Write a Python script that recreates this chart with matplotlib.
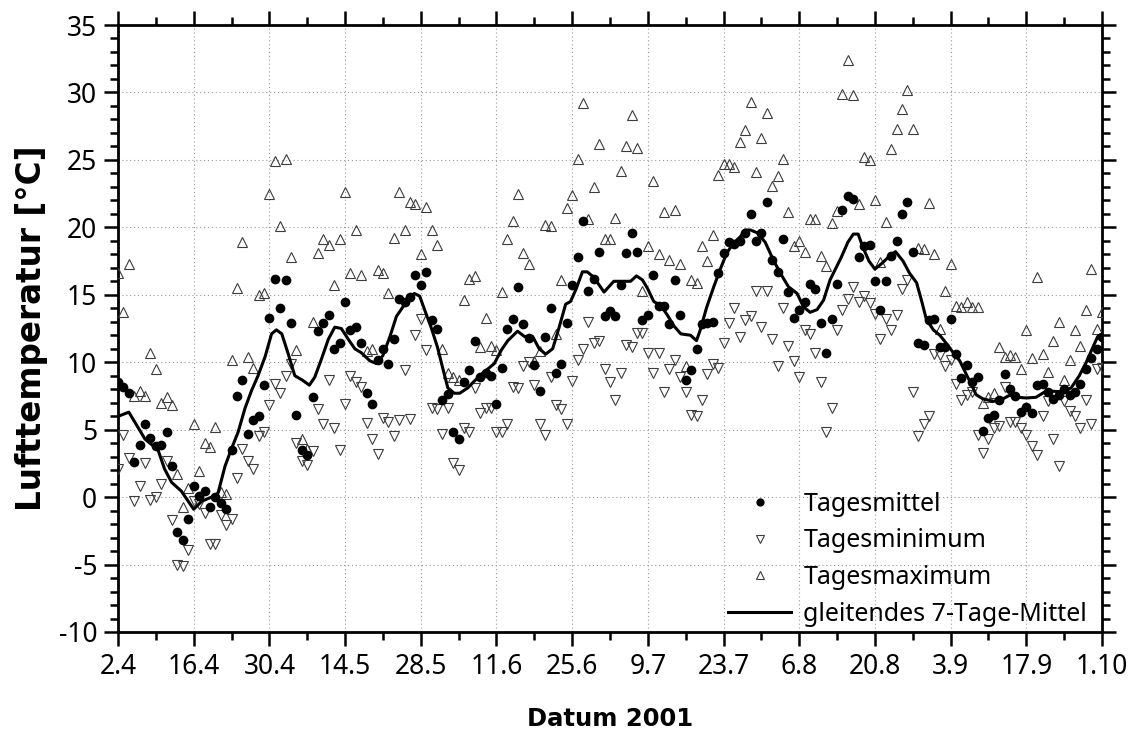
import numpy as np
import matplotlib
matplotlib.use("Agg")
import matplotlib.pyplot as plt
from matplotlib.ticker import MultipleLocator, FixedLocator

# ---------------- data (day index 0 = 2.4.2001 ... 182 = 1.10.2001) ----------------
tick_labels = ["2.4", "16.4", "30.4", "14.5", "28.5", "11.6", "25.6",
               "9.7", "23.7", "6.8", "20.8", "3.9", "17.9", "1.10"]

tagesmittel = [
    8.5, 8.15, 7.7, 2.6, 3.9, 5.4, 4.4, 3.8, 3.9, 4.8,
    2.3, -2.6, -3.2, -1.6, 0.8, 0.1, 0.45, -0.7, 0.0, -0.4,
    -0.9, 3.5, 7.5, 8.7, 4.7, 5.7, 6.0, 8.3, 13.3, 16.2,
    14.0, 16.1, 12.9, 6.1, 3.5, 3.1, 7.4, 12.3, 12.9, 13.5,
    11.0, 11.4, 14.5, 12.4, 12.6, 11.4, 7.7, 6.9, 10.2, 11.0,
    9.9, 11.7, 14.7, 14.5, 14.8, 16.5, 15.7, 16.7, 13.1, 12.5,
    7.2, 7.65, 4.8, 4.3, 8.5, 9.4, 11.6, 8.9, 9.2, 9.0,
    6.9, 9.6, 12.5, 13.2, 15.6, 12.8, 11.8, 9.8, 7.85, 11.9,
    14.0, 9.2, 9.9, 12.9, 15.7, 17.8, 20.5, 15.3, 16.2, 18.2,
    13.4, 13.8, 13.4, 15.7, 18.1, 19.6, 18.2, 13.1, 13.5, 16.5,
    14.2, 14.2, 12.8, 16.1, 13.5, 8.65, 9.4, 11.0, 12.8, 12.9,
    13.0, 16.6, 18.1, 18.9, 18.8, 19.0, 19.6, 21.0, 19.0, 19.6,
    21.9, 17.6, 16.7, 19.1, 15.2, 13.3, 13.9, 14.5, 15.8, 15.4,
    12.9, 10.7, 13.2, 15.8, 21.3, 22.35, 22.1, 17.8, 18.6, 18.7,
    16.0, 13.9, 16.0, 17.9, 19.0, 21.0, 21.9, 18.2, 11.4, 11.3,
    13.1, 13.2, 11.1, 11.1, 13.2, 10.6, 8.8, 9.8, 8.5, 8.9,
    4.9, 5.85, 6.1, 7.2, 9.1, 8.0, 7.5, 6.3, 6.7, 6.2,
    8.3, 8.4, 7.8, 7.3, 7.6, 8.0, 7.55, 7.8, 8.4, 9.5,
    10.3, 11.0, 11.9,
]

tagesminimum = [
    2.1, 4.6, 2.9, -0.3, 0.8, 2.5, -0.2, 0.0, 1.0, 2.7,
    -1.7, -5.0, -5.1, -3.9, -0.3, -0.5, -1.2, -3.5, -3.5, -1.3,
    -2.1, -1.6, 1.4, 3.6, 2.7, 2.1, 4.5, 4.8, 6.8, 8.4,
    7.7, 9.0, 9.9, 4.0, 2.7, 2.4, 3.4, 6.5, 5.4, 8.7,
    5.1, 3.5, 6.9, 9.0, 8.5, 8.2, 5.5, 4.3, 3.2, 5.9,
    5.6, 4.5, 5.7, 9.4, 5.8, 12.0, 13.2, 10.9, 6.6, 6.5,
    4.7, 6.6, 2.5, 2.0, 5.1, 4.8, 8.1, 6.2, 6.6, 6.6,
    4.8, 4.8, 5.4, 8.2, 8.1, 9.7, 10.0, 8.3, 5.4, 4.6,
    8.9, 6.8, 6.5, 5.4, 8.6, 10.2, 11.0, 13.0, 11.4, 11.6,
    9.5, 8.5, 7.2, 9.2, 11.3, 11.1, 12.2, 12.2, 10.7, 9.2,
    10.7, 7.8, 9.5, 10.2, 8.9, 7.8, 6.1, 6.0, 7.2, 9.1,
    9.9, 9.6, 11.4, 12.9, 14.0, 11.9, 13.1, 13.4, 15.3, 12.6,
    15.3, 11.7, 9.7, 14.0, 11.2, 10.1, 8.9, 12.4, 12.1, 10.7,
    8.5, 4.8, 6.6, 12.4, 13.9, 14.7, 15.6, 14.5, 14.9, 14.4,
    13.6, 11.7, 13.2, 12.4, 13.5, 15.4, 16.1, 7.8, 4.5, 5.4,
    6.0, 10.6, 10.5, 9.7, 10.2, 8.4, 7.2, 7.6, 7.8, 4.6,
    3.3, 4.3, 5.1, 5.3, 8.2, 5.6, 5.6, 5.1, 4.6, 3.8,
    3.1, 6.0, 7.1, 4.3, 2.3, 7.1, 6.4, 6.0, 5.1, 7.2,
    5.4, 9.5, 9.6,
]

tagesmaximum = [
    16.6, 13.7, 17.3, 7.5, 7.9, 7.5, 10.7, 9.5, 7.0, 7.4,
    6.85, 1.7, -0.7, 0.7, 5.4, 1.9, 4.0, 3.7, 5.2, 0.4,
    0.25, 10.2, 15.5, 18.9, 10.4, 9.6, 15.0, 15.1, 22.5, 24.9,
    20.1, 25.1, 17.8, 10.9, 4.3, 3.6, 13.0, 18.1, 19.1, 18.7,
    15.7, 19.1, 22.6, 16.6, 19.8, 16.5, 10.8, 11.0, 16.8, 16.6,
    15.1, 19.2, 22.6, 19.8, 21.9, 21.7, 18.0, 21.5, 19.8, 18.7,
    11.0, 9.2, 8.9, 8.7, 14.6, 16.2, 16.4, 11.1, 13.3, 11.2,
    10.9, 15.2, 19.1, 20.5, 22.5, 18.1, 17.3, 10.1, 10.8, 20.2,
    20.1, 12.1, 16.1, 21.4, 22.4, 25.1, 29.2, 20.6, 23.0, 26.2,
    19.1, 19.1, 20.7, 24.2, 26.0, 28.3, 25.9, 15.3, 18.6, 23.4,
    18.0, 21.1, 17.6, 21.3, 17.3, 9.7, 16.1, 15.9, 18.6, 17.5,
    19.4, 23.9, 24.7, 24.7, 24.5, 26.3, 27.2, 29.3, 24.1, 26.6,
    28.5, 23.1, 23.8, 25.1, 21.1, 18.6, 19.0, 18.2, 20.6, 20.6,
    17.9, 17.1, 20.3, 21.2, 29.9, 32.4, 29.8, 21.7, 25.2, 25.0,
    22.0, 17.4, 20.4, 25.8, 27.3, 28.8, 30.2, 27.3, 18.5, 18.4,
    21.8, 18.0, 12.5, 15.3, 17.3, 14.2, 14.1, 14.5, 14.1, 14.1,
    7.0, 7.4, 7.7, 11.1, 10.4, 10.5, 10.4, 9.5, 12.4, 10.3,
    16.3, 10.6, 9.3, 11.6, 13.0, 8.7, 10.2, 12.4, 11.2, 13.9,
    16.9, 12.5, 13.7,
]

mittel7_days = [
    0.1, 2, 5, 7.4, 8.6, 9.9, 11.7, 14, 15.5, 17.3,
    18.5, 19.8, 21, 22.2, 23.5, 24.7, 25.9, 27.2, 28.4, 29.3,
    30.3, 31.5, 32.7, 34, 35.4, 36.4, 37.6, 38.9, 40.1, 41.3,
    42.6, 43.8, 45, 46.6, 47.8, 49, 50.3, 51.5, 52.7, 53.6,
    54.8, 55.8, 56.7, 57.9, 59.1, 60.1, 61, 62.2, 63.2, 64.7,
    65.9, 67.5, 69.6, 70.9, 72.1, 73.9, 75.2, 76.7, 77.9, 79.1,
    80.4, 81.6, 82.8, 83.7, 84.7, 85.9, 86.8, 88, 89.9, 91.7,
    93, 94.8, 95.9, 97, 97.9, 99.1, 100.4, 101.6, 102.8, 104.1,
    105.9, 107, 107.7, 108.9, 110.2, 111.4, 112.6, 113.8, 115.1, 116,
    117, 118.2, 119.7, 121.3, 122.8, 124, 125.6, 126.8, 128, 129.3,
    130.5, 131.7, 133.8, 135, 136, 136.9, 137.8, 138.9, 140, 141.2,
    142.8, 143.8, 145.2, 146.4, 147.7, 148.6, 149.5, 150.8, 152, 153.2,
    154.5, 155.7, 156.9, 157.8, 158.7, 159.9, 161.8, 163.3, 164.9, 166.4,
    168, 169.8, 171.4, 172.9, 174.7, 176.3, 177.8, 179.1, 180.3, 181.2,
    182,
]
mittel7_vals = [
    6.0, 6.3, 4.3, 3.5, 2.1, 1.1, 0.45, -0.9, -0.3, 0.0,
    0.3, 2.3, 3.6, 4.8, 6.6, 7.9, 9.0, 10.4, 12.1, 12.4,
    12.1, 10.6, 9.0, 8.7, 8.3, 8.9, 10.2, 11.7, 12.6, 12.5,
    11.7, 11.0, 10.7, 10.1, 9.9, 10.5, 11.9, 13.4, 14.1, 14.6,
    15.1, 14.9, 13.9, 12.6, 11.1, 9.5, 8.1, 7.7, 7.7, 8.1,
    8.6, 9.2, 9.9, 10.9, 11.6, 12.3, 11.9, 11.9, 11.0, 10.6,
    11.0, 12.6, 14.3, 14.5, 15.4, 16.7, 16.7, 16.3, 15.2, 16.0,
    16.0, 16.0, 16.4, 16.1, 15.5, 14.5, 14.2, 13.5, 12.7, 12.1,
    12.0, 11.6, 12.4, 14.1, 15.6, 16.9, 18.1, 18.8, 19.3, 19.8,
    19.8, 19.6, 18.9, 17.5, 16.4, 15.6, 15.1, 14.1, 13.7, 13.9,
    14.6, 16.1, 17.8, 18.9, 19.5, 19.5, 18.5, 17.5, 16.9, 17.3,
    17.9, 18.2, 17.5, 16.6, 15.9, 14.6, 13.2, 12.4, 12.0, 11.4,
    10.7, 10.1, 9.1, 8.4, 7.6, 7.3, 7.1, 7.2, 7.55, 7.4,
    7.35, 7.4, 7.8, 7.85, 7.8, 8.1, 9.0, 10.0, 11.1, 11.9,
    12.1,
]

# ---------------- figure ----------------
FONT = ["Noto Sans", "DejaVu Sans"]
plt.rcParams["font.family"] = FONT
plt.rcParams["axes.unicode_minus"] = False

fig = plt.figure(figsize=(11.3, 7.35), dpi=100)
ax = fig.add_axes([118 / 1130, 1 - 632 / 735, 984 / 1130, 607 / 735])

days = np.arange(len(tagesmittel))

tri_style = dict(linestyle="none", markersize=7.6, markerfacecolor="none",
                 markeredgecolor="#3c3c3c", markeredgewidth=0.8, zorder=3)
ax.plot(days, tagesminimum, marker="v", label="Tagesminimum", **tri_style)
ax.plot(days, tagesmaximum, marker="^", label="Tagesmaximum", **tri_style)
ax.plot(days, tagesmittel, linestyle="none", marker="o", markersize=7.0,
        color="black", markeredgewidth=0, label="Tagesmittel", zorder=4)
ax.plot(mittel7_days, mittel7_vals, color="black", linewidth=2.2,
        label="gleitendes 7-Tage-Mittel", zorder=5)

ax.set_xlim(0, 182)
ax.set_ylim(-10, 35)

ax.xaxis.set_major_locator(FixedLocator(np.arange(0, 183, 14)))
ax.set_xticklabels(tick_labels)
ax.xaxis.set_minor_locator(FixedLocator(np.arange(7, 183, 14)))
ax.yaxis.set_major_locator(MultipleLocator(5))
ax.yaxis.set_minor_locator(MultipleLocator(1))

ax.tick_params(which="both", direction="out", top=True, right=True,
               labeltop=False, labelright=False, width=1.8, color="black")
ax.tick_params(which="major", length=10, labelsize=19, pad=5)
ax.tick_params(which="minor", length=6)
for sp in ax.spines.values():
    sp.set_linewidth(2.0)

ax.grid(True, which="major", linestyle=(0, (1, 2.5)), linewidth=0.8,
        color="#9a9a9a", zorder=0)
ax.set_axisbelow(True)

ax.set_ylabel("Lufttemperatur [°C]", family=["DejaVu Sans"], fontsize=23.5,
              fontweight="bold")
ax.set_xlabel("Datum 2001", family=["DejaVu Sans"], fontsize=17.5,
              fontweight="bold")
ax.yaxis.set_label_coords(-0.071, 0.5)
ax.xaxis.set_label_coords(0.5, -0.123)

handles, labels = ax.get_legend_handles_labels()
order = [2, 0, 1, 3]
leg = ax.legend([handles[i] for i in order], [labels[i] for i in order],
                loc="lower right", frameon=False, fontsize=18,
                handlelength=2.5, handletextpad=0.5, labelspacing=0.47,
                borderaxespad=0.0, bbox_to_anchor=(0.995, -0.008),
                markerscale=0.85)

fig.savefig("out.png", dpi=100)
